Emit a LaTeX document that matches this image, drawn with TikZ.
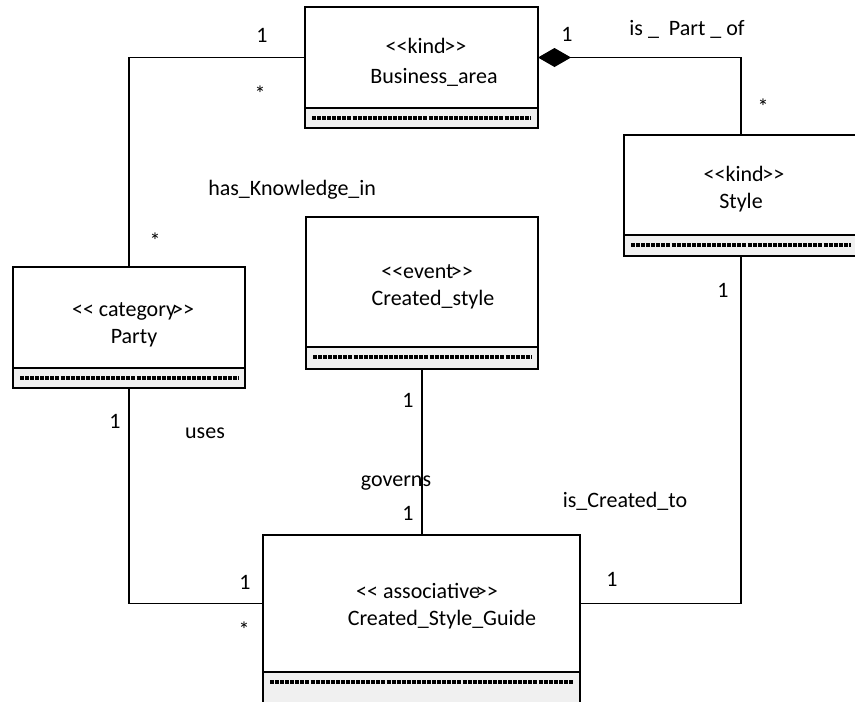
\documentclass[tikz,border=0pt]{standalone}
\usepackage{fontspec}
\setmainfont{Carlito}
\usetikzlibrary{arrows.meta}
\definecolor{compfill}{HTML}{F0F0F0}
% guillemet-free stereotype brackets (a kern stops the << >> text ligature)
\newcommand{\ltlt}{<\kern0pt<}
\newcommand{\gtgt}{>\kern0pt>}

\begin{document}
\begin{tikzpicture}[x=0.75pt,y=-0.75pt,
  every node/.style={font=\fontsize{16.5}{20}\selectfont},
  namebox/.style 2 args={draw, line width=1.5pt, fill=white, inner sep=0pt, outer sep=0pt,
    minimum width=#1*0.75pt, minimum height=#2*0.75pt},
  attrbox/.style 2 args={draw, line width=1.5pt, fill=compfill, inner sep=0pt, outer sep=0pt,
    minimum width=#1*0.75pt, minimum height=#2*0.75pt, anchor=north},
  txt/.style={anchor=base, inner sep=0pt},
  assoc/.style={line width=1pt},
  attrdash/.style={line width=2.3pt, dash pattern=on 3pt off 0.8pt},
]
\useasboundingbox (0,0) rectangle (855,701);
\clip (0,0) rectangle (855,701);

% ---- classes: name compartment + attribute compartment ----
\node[namebox={233}{101}] (ba) at (421.5,57.5) {};
\node[attrbox={233}{20}] (baA) at (ba.south) {};

\node[namebox={234}{100}] (style) at (741,185) {};
\node[attrbox={234}{21}] (styleA) at (style.south) {};

\node[namebox={232}{101}] (party) at (129,317.5) {};
\node[attrbox={232}{20}] (partyA) at (party.south) {};

\node[namebox={232}{130}] (cs) at (422,282) {};
\node[attrbox={232}{22}] (csA) at (cs.south) {};

\node[namebox={317}{137}] (csg) at (421.5,603.5) {};
\node[attrbox={317}{40}] (csgA) at (csg.south) {};

% empty attribute lists
\foreach \c in {baA,styleA,partyA,csA,csgA}
  \draw[attrdash] ([shift={(7,10)}]\c.north west) -- ([shift={(-7,10)}]\c.north east);

% ---- class texts ----
\node[txt] (ba-st) at (426,53) {\ltlt kind\kern-1pt\gtgt};
\node[txt] (ba-nm) at (434,83) {Business\_area};
\node[txt] (style-st) at (744,181) {\ltlt kind\kern-1pt\gtgt};
\node[txt] (style-nm) at (741,208) {Style};
\node[txt] (party-st) at (133,316) {\ltlt{} category\kern-3pt\gtgt};
\node[txt] (party-nm) at (134,343) {Party};
\node[txt] (cs-st) at (427,278) {\ltlt event\kern-2pt\gtgt};
\node[txt] (cs-nm) at (433,305) {Created\_style};
\node[txt] (csg-st) at (427,598) {\ltlt{} associative\kern-3pt\gtgt};
\node[txt] (csg-nm) at (442,625) {Created\_Style\_Guide};

% ---- associations ----
\draw[assoc] (ba.west) -| (party.north);
\draw[assoc, {Diamond[length=24.75pt, width=14.25pt]}-] (ba.east) -| (style.north);
\draw[assoc] (styleA.south) |- (csg.east);
\draw[assoc] (partyA.south) |- (csg.west);
\draw[assoc] (csA.south) -- (csA.south |- csg.north);

% ---- role names and multiplicities ----
\node[txt] (m1) at (262,42) {1};
\node[txt] (m2) at (260,101) {*};
\node[txt, anchor=base west] (l1) at (208,195) {has\_Knowledge\_in};
\node[txt] (m3) at (155,248) {*};

\node[txt] (m4) at (567,41) {1};
\node[txt] (l2) at (687,35) {is \_\ \ Part \_ of};
\node[txt] (m5) at (763,114) {*};

\node[txt] (m6) at (723,297) {1};
\node[txt] (l3) at (625,507) {is\_Created\_to};
\node[txt] (m7) at (612,586) {1};

\node[txt] (m8) at (115,428) {1};
\node[txt] (l4) at (205,438) {uses};
\node[txt] (m9) at (245,589) {1};
\node[txt] (m10) at (244,637) {*};

\node[txt] (m11) at (408,407) {1};
\node[txt] (l5) at (396,486) {governs};
\node[txt] (m12) at (408,520) {1};
\end{tikzpicture}
\end{document}
